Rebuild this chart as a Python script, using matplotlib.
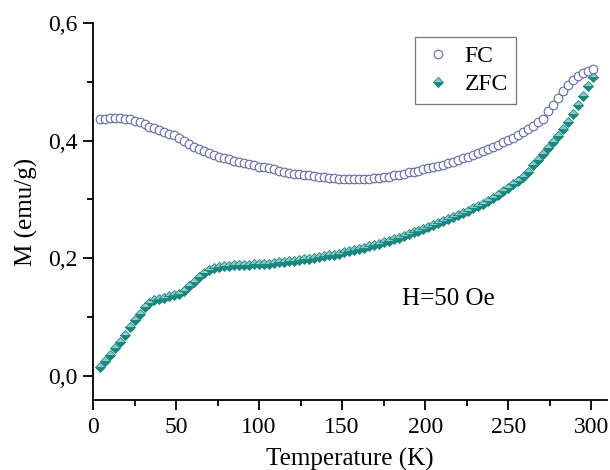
import matplotlib
matplotlib.use("Agg")
import matplotlib.pyplot as plt
from matplotlib.ticker import MultipleLocator, FuncFormatter

# ---- data ----
temperature = [4 + 3 * i for i in range(100)]

fc_m = [0.437, 0.437, 0.438, 0.438, 0.438, 0.437, 0.437, 0.434, 0.431, 0.428,
        0.424, 0.421, 0.418, 0.415, 0.412, 0.409, 0.405, 0.400, 0.395, 0.390,
        0.386, 0.382, 0.379, 0.376, 0.373, 0.370, 0.368, 0.366, 0.364, 0.362,
        0.360, 0.358, 0.356, 0.355, 0.353, 0.351, 0.349, 0.347, 0.345, 0.344,
        0.343, 0.342, 0.341, 0.340, 0.339, 0.338, 0.337, 0.336, 0.335, 0.335,
        0.334, 0.334, 0.334, 0.335, 0.335, 0.336, 0.337, 0.338, 0.339, 0.341,
        0.342, 0.344, 0.346, 0.347, 0.349, 0.351, 0.353, 0.355, 0.357, 0.359,
        0.362, 0.364, 0.367, 0.370, 0.373, 0.376, 0.379, 0.382, 0.386, 0.389,
        0.393, 0.397, 0.401, 0.405, 0.410, 0.415, 0.420, 0.425, 0.431, 0.437,
        0.450, 0.460, 0.472, 0.484, 0.495, 0.503, 0.510, 0.515, 0.519, 0.521]

zfc_m = [0.015, 0.025, 0.035, 0.047, 0.058, 0.070, 0.083, 0.095, 0.106, 0.117,
         0.124, 0.129, 0.131, 0.133, 0.135, 0.137, 0.140, 0.145, 0.152, 0.160,
         0.168, 0.175, 0.180, 0.183, 0.185, 0.186, 0.187, 0.188, 0.188, 0.189,
         0.189, 0.190, 0.190, 0.191, 0.191, 0.192, 0.193, 0.194, 0.195, 0.196,
         0.197, 0.198, 0.199, 0.200, 0.202, 0.203, 0.205, 0.206, 0.208, 0.210,
         0.212, 0.214, 0.216, 0.218, 0.220, 0.222, 0.224, 0.227, 0.229, 0.232,
         0.235, 0.238, 0.241, 0.244, 0.247, 0.250, 0.253, 0.256, 0.260, 0.263,
         0.266, 0.270, 0.273, 0.277, 0.281, 0.285, 0.289, 0.293, 0.298, 0.303,
         0.308, 0.314, 0.320, 0.326, 0.332, 0.339, 0.346, 0.358, 0.367, 0.377,
         0.387, 0.397, 0.408, 0.420, 0.432, 0.445, 0.460, 0.476, 0.493, 0.508]

x_ticks = [0, 50, 100, 150, 200, 250, 300]
y_ticks = [0.0, 0.2, 0.4, 0.6]
series_labels = ["FC", "ZFC"]
annotation = "H=50 Oe"

# ---- style ----
plt.rcParams['font.family'] = ['Liberation Serif', 'DejaVu Serif']
fc_color = "#6565ad"
zfc_color = "#17867e"
zfc_light = "#8fcac4"

fig = plt.figure(figsize=(6.1, 4.7), dpi=100)
ax = fig.add_axes([0.1525, 0.149, 0.8425, 0.802])

ax.plot(temperature, fc_m, linestyle='none', marker='o', markersize=6.2,
        markerfacecolor='white', markeredgecolor=fc_color, markeredgewidth=0.8,
        label=series_labels[0], zorder=3)
ax.plot(temperature, zfc_m, linestyle='none', marker='D', markersize=5.2,
        markerfacecolor=zfc_color, markerfacecoloralt=zfc_light, fillstyle='bottom',
        markeredgecolor=zfc_color, markeredgewidth=0.6,
        label=series_labels[1], zorder=2)

ax.set_xlim(0, 309.5)
ax.set_ylim(-0.041, 0.6)
ax.spines['top'].set_visible(False)
ax.spines['right'].set_visible(False)
for s in ('left', 'bottom'):
    ax.spines[s].set_linewidth(1.3)

ax.set_xticks(x_ticks)
ax.set_yticks(y_ticks)
ax.xaxis.set_minor_locator(MultipleLocator(25))
ax.yaxis.set_minor_locator(MultipleLocator(0.1))
ax.yaxis.set_major_formatter(FuncFormatter(lambda v, p: f"{v:.1f}".replace('.', ',')))
ax.tick_params(which='major', direction='out', length=7.2, width=1.3, labelsize=17)
ax.tick_params(which='minor', direction='out', length=4, width=1.3)
ax.tick_params(axis='x', which='major', pad=5)
ax.tick_params(axis='y', which='major', pad=4)

ax.set_xlabel("Temperature (K)", fontsize=18, labelpad=7)
ax.set_ylabel("M (emu/g)", fontsize=18, labelpad=7)

leg = ax.legend(loc='upper left', bbox_to_anchor=(0.626, 0.963), fontsize=17,
                frameon=True, fancybox=False, edgecolor='#555555',
                handletextpad=0.45, borderpad=0.35, labelspacing=0.3,
                handlelength=1.3, borderaxespad=0)
leg.get_frame().set_linewidth(0.9)

ax.text(186, 0.13, annotation, fontsize=18, va='center', ha='left')

fig.savefig("out.png", dpi=100)
